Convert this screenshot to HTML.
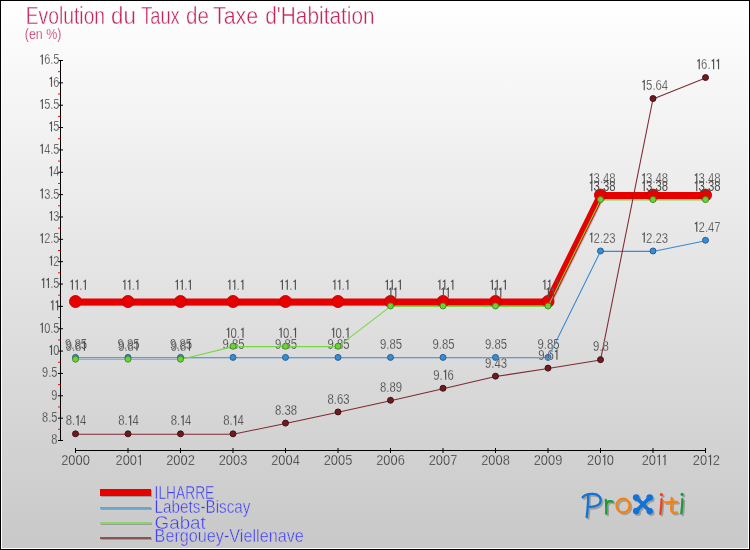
<!DOCTYPE html>
<html><head><meta charset="utf-8"><title>Evolution du Taux de Taxe d'Habitation</title>
<style>
html,body{margin:0;padding:0;background:#fff;}
body{width:750px;height:550px;overflow:hidden;}
svg{display:block;font-family:"Liberation Sans",sans-serif;will-change:transform;}
</style></head><body>
<svg width="750" height="550" viewBox="0 0 750 550">
<defs>
<linearGradient id="bg" gradientUnits="userSpaceOnUse" x1="0" y1="0" x2="0" y2="550"><stop offset="0" stop-color="#ffffff"/><stop offset="1" stop-color="#c8c8c8"/></linearGradient>
<filter id="sh" x="-5%" y="-5%" width="110%" height="110%"><feGaussianBlur stdDeviation="0.6"/></filter>
</defs>
<rect x="0" y="0" width="750" height="550" fill="#000"/>
<rect x="1" y="1" width="748" height="548" fill="#fff"/>
<rect x="2" y="2" width="746" height="546" fill="url(#bg)"/>

<text x="25.73" y="24.00" font-size="24.6" fill="#c4255a" textLength="79.38" lengthAdjust="spacingAndGlyphs" stroke="#fdfdfd" stroke-width="0.45">Evolution</text>
<text x="111.12" y="24.00" font-size="24.6" fill="#c4255a" textLength="24.80" lengthAdjust="spacingAndGlyphs" stroke="#fdfdfd" stroke-width="0.45">du</text>
<text x="141.16" y="24.00" font-size="24.6" fill="#c4255a" textLength="38.59" lengthAdjust="spacingAndGlyphs" stroke="#fdfdfd" stroke-width="0.45">Taux</text>
<text x="185.96" y="24.00" font-size="24.6" fill="#c4255a" textLength="22.90" lengthAdjust="spacingAndGlyphs" stroke="#fdfdfd" stroke-width="0.45">de</text>
<text x="212.96" y="24.00" font-size="24.6" fill="#c4255a" textLength="45.27" lengthAdjust="spacingAndGlyphs" stroke="#fdfdfd" stroke-width="0.45">Taxe</text>
<text x="265.29" y="24.00" font-size="24.6" fill="#c4255a" textLength="109.30" lengthAdjust="spacingAndGlyphs" stroke="#fdfdfd" stroke-width="0.45">d&#39;Habitation</text>
<text x="24.80" y="39.40" font-size="14.5" fill="#c4255a" textLength="36.60" lengthAdjust="spacingAndGlyphs" stroke="#fbfbfb" stroke-width="0.25">(en %)</text>
<g stroke="#000" stroke-width="1" fill="none">
<line x1="60.5" y1="60" x2="60.5" y2="441"/>
<line x1="58" y1="440.50" x2="63" y2="440.50"/>
<line x1="58" y1="429.32" x2="60.4" y2="429.32" stroke="#f00"/>
<line x1="58" y1="418.15" x2="63" y2="418.15"/>
<line x1="58" y1="406.97" x2="60.4" y2="406.97" stroke="#f00"/>
<line x1="58" y1="395.79" x2="63" y2="395.79"/>
<line x1="58" y1="384.62" x2="60.4" y2="384.62" stroke="#f00"/>
<line x1="58" y1="373.44" x2="63" y2="373.44"/>
<line x1="58" y1="362.26" x2="60.4" y2="362.26" stroke="#f00"/>
<line x1="58" y1="351.09" x2="63" y2="351.09"/>
<line x1="58" y1="339.91" x2="60.4" y2="339.91" stroke="#f00"/>
<line x1="58" y1="328.74" x2="63" y2="328.74"/>
<line x1="58" y1="317.56" x2="60.4" y2="317.56" stroke="#f00"/>
<line x1="58" y1="306.38" x2="63" y2="306.38"/>
<line x1="58" y1="295.21" x2="60.4" y2="295.21" stroke="#f00"/>
<line x1="58" y1="284.03" x2="63" y2="284.03"/>
<line x1="58" y1="272.85" x2="60.4" y2="272.85" stroke="#f00"/>
<line x1="58" y1="261.68" x2="63" y2="261.68"/>
<line x1="58" y1="250.50" x2="60.4" y2="250.50" stroke="#f00"/>
<line x1="58" y1="239.32" x2="63" y2="239.32"/>
<line x1="58" y1="228.15" x2="60.4" y2="228.15" stroke="#f00"/>
<line x1="58" y1="216.97" x2="63" y2="216.97"/>
<line x1="58" y1="205.79" x2="60.4" y2="205.79" stroke="#f00"/>
<line x1="58" y1="194.62" x2="63" y2="194.62"/>
<line x1="58" y1="183.44" x2="60.4" y2="183.44" stroke="#f00"/>
<line x1="58" y1="172.26" x2="63" y2="172.26"/>
<line x1="58" y1="161.09" x2="60.4" y2="161.09" stroke="#f00"/>
<line x1="58" y1="149.91" x2="63" y2="149.91"/>
<line x1="58" y1="138.74" x2="60.4" y2="138.74" stroke="#f00"/>
<line x1="58" y1="127.56" x2="63" y2="127.56"/>
<line x1="58" y1="116.38" x2="60.4" y2="116.38" stroke="#f00"/>
<line x1="58" y1="105.21" x2="63" y2="105.21"/>
<line x1="58" y1="94.03" x2="60.4" y2="94.03" stroke="#f00"/>
<line x1="58" y1="82.85" x2="63" y2="82.85"/>
<line x1="58" y1="71.68" x2="60.4" y2="71.68" stroke="#f00"/>
<line x1="58" y1="60.50" x2="63" y2="60.50"/>
<line x1="75" y1="450.5" x2="706" y2="450.5"/>
<line x1="75.50" y1="448" x2="75.50" y2="453"/>
<line x1="128.00" y1="448" x2="128.00" y2="453"/>
<line x1="180.50" y1="448" x2="180.50" y2="453"/>
<line x1="233.00" y1="448" x2="233.00" y2="453"/>
<line x1="285.50" y1="448" x2="285.50" y2="453"/>
<line x1="338.00" y1="448" x2="338.00" y2="453"/>
<line x1="390.50" y1="448" x2="390.50" y2="453"/>
<line x1="443.00" y1="448" x2="443.00" y2="453"/>
<line x1="495.50" y1="448" x2="495.50" y2="453"/>
<line x1="548.00" y1="448" x2="548.00" y2="453"/>
<line x1="600.50" y1="448" x2="600.50" y2="453"/>
<line x1="653.00" y1="448" x2="653.00" y2="453"/>
<line x1="705.50" y1="448" x2="705.50" y2="453"/>
</g>
<text transform="translate(51.20,444.40) scale(0.7837,1)" x="0.00" font-size="14.0" fill="#2e2e2e" stroke="#d3d3d3" stroke-width="0.32">8</text>
<text transform="translate(42.05,422.05) scale(0.7837,1)" x="0.00 7.78 11.68" font-size="14.0" fill="#2e2e2e" stroke="#d5d5d5" stroke-width="0.32">8.5</text>
<text transform="translate(51.20,399.69) scale(0.7837,1)" x="0.00" font-size="14.0" fill="#2e2e2e" stroke="#d7d7d7" stroke-width="0.32">9</text>
<text transform="translate(42.05,377.34) scale(0.7837,1)" x="0.00 7.78 11.68" font-size="14.0" fill="#2e2e2e" stroke="#dadada" stroke-width="0.32">9.5</text>
<text transform="translate(48.54,354.99) scale(0.7837,1)" x="6.07" font-size="14.0" fill="#2e2e2e" stroke="#dcdcdc" stroke-width="0.32">0</text>
<path d="M51.49,354.99 V345.75 L49.59,347.25" fill="none" stroke="#505050" stroke-width="1.15" stroke-linejoin="miter"/>
<text transform="translate(39.39,332.64) scale(0.7837,1)" x="6.07 13.86 17.75" font-size="14.0" fill="#2e2e2e" stroke="#dedede" stroke-width="0.32">0.5</text>
<path d="M42.34,332.64 V323.40 L40.44,324.90" fill="none" stroke="#505050" stroke-width="1.15" stroke-linejoin="miter"/>
<path d="M52.83,310.28 V301.04 L50.93,302.54" fill="none" stroke="#505050" stroke-width="1.15" stroke-linejoin="miter"/>
<path d="M57.59,310.28 V301.04 L55.69,302.54" fill="none" stroke="#505050" stroke-width="1.15" stroke-linejoin="miter"/>
<text transform="translate(40.73,287.93) scale(0.7837,1)" x="12.14 16.04" font-size="14.0" fill="#2e2e2e" stroke="#e3e3e3" stroke-width="0.32">.5</text>
<path d="M43.68,287.93 V278.69 L41.78,280.19" fill="none" stroke="#505050" stroke-width="1.15" stroke-linejoin="miter"/>
<path d="M48.44,287.93 V278.69 L46.54,280.19" fill="none" stroke="#505050" stroke-width="1.15" stroke-linejoin="miter"/>
<text transform="translate(48.54,265.58) scale(0.7837,1)" x="6.07" font-size="14.0" fill="#2e2e2e" stroke="#e5e5e5" stroke-width="0.32">2</text>
<path d="M51.49,265.58 V256.34 L49.59,257.84" fill="none" stroke="#505050" stroke-width="1.15" stroke-linejoin="miter"/>
<text transform="translate(39.39,243.22) scale(0.7837,1)" x="6.07 13.86 17.75" font-size="14.0" fill="#2e2e2e" stroke="#e7e7e7" stroke-width="0.32">2.5</text>
<path d="M42.34,243.22 V233.98 L40.44,235.48" fill="none" stroke="#505050" stroke-width="1.15" stroke-linejoin="miter"/>
<text transform="translate(48.54,220.87) scale(0.7837,1)" x="6.07" font-size="14.0" fill="#2e2e2e" stroke="#e9e9e9" stroke-width="0.32">3</text>
<path d="M51.49,220.87 V211.63 L49.59,213.13" fill="none" stroke="#505050" stroke-width="1.15" stroke-linejoin="miter"/>
<text transform="translate(39.39,198.52) scale(0.7837,1)" x="6.07 13.86 17.75" font-size="14.0" fill="#2e2e2e" stroke="#ececec" stroke-width="0.32">3.5</text>
<path d="M42.34,198.52 V189.28 L40.44,190.78" fill="none" stroke="#505050" stroke-width="1.15" stroke-linejoin="miter"/>
<text transform="translate(48.54,176.16) scale(0.7837,1)" x="6.07" font-size="14.0" fill="#2e2e2e" stroke="#eeeeee" stroke-width="0.32">4</text>
<path d="M51.49,176.16 V166.92 L49.59,168.42" fill="none" stroke="#505050" stroke-width="1.15" stroke-linejoin="miter"/>
<text transform="translate(39.39,153.81) scale(0.7837,1)" x="6.07 13.86 17.75" font-size="14.0" fill="#2e2e2e" stroke="#f0f0f0" stroke-width="0.32">4.5</text>
<path d="M42.34,153.81 V144.57 L40.44,146.07" fill="none" stroke="#505050" stroke-width="1.15" stroke-linejoin="miter"/>
<text transform="translate(48.54,131.46) scale(0.7837,1)" x="6.07" font-size="14.0" fill="#2e2e2e" stroke="#f2f2f2" stroke-width="0.32">5</text>
<path d="M51.49,131.46 V122.22 L49.59,123.72" fill="none" stroke="#505050" stroke-width="1.15" stroke-linejoin="miter"/>
<text transform="translate(39.39,109.11) scale(0.7837,1)" x="6.07 13.86 17.75" font-size="14.0" fill="#2e2e2e" stroke="#f4f4f4" stroke-width="0.32">5.5</text>
<path d="M42.34,109.11 V99.87 L40.44,101.37" fill="none" stroke="#505050" stroke-width="1.15" stroke-linejoin="miter"/>
<text transform="translate(48.54,86.75) scale(0.7837,1)" x="6.07" font-size="14.0" fill="#2e2e2e" stroke="#f7f7f7" stroke-width="0.32">6</text>
<path d="M51.49,86.75 V77.51 L49.59,79.01" fill="none" stroke="#505050" stroke-width="1.15" stroke-linejoin="miter"/>
<text transform="translate(39.39,64.40) scale(0.7837,1)" x="6.07 13.86 17.75" font-size="14.0" fill="#2e2e2e" stroke="#f9f9f9" stroke-width="0.32">6.5</text>
<path d="M42.34,64.40 V55.16 L40.44,56.66" fill="none" stroke="#505050" stroke-width="1.15" stroke-linejoin="miter"/>
<text transform="translate(61.20,465.30) scale(0.8573,1)" x="0.00 8.34 16.68 25.02" font-size="15.0" fill="#2e2e2e" stroke="#d1d1d1" stroke-width="0.32">2000</text>
<text transform="translate(115.49,465.30) scale(0.8573,1)" x="0.00 8.34 16.68" font-size="15.0" fill="#2e2e2e" stroke="#d1d1d1" stroke-width="0.32">200</text>
<path d="M140.39,465.30 V455.40 L138.49,456.90" fill="none" stroke="#505050" stroke-width="1.15" stroke-linejoin="miter"/>
<text transform="translate(166.20,465.30) scale(0.8573,1)" x="0.00 8.34 16.68 25.02" font-size="15.0" fill="#2e2e2e" stroke="#d1d1d1" stroke-width="0.32">2002</text>
<text transform="translate(218.70,465.30) scale(0.8573,1)" x="0.00 8.34 16.68 25.02" font-size="15.0" fill="#2e2e2e" stroke="#d1d1d1" stroke-width="0.32">2003</text>
<text transform="translate(271.20,465.30) scale(0.8573,1)" x="0.00 8.34 16.68 25.02" font-size="15.0" fill="#2e2e2e" stroke="#d1d1d1" stroke-width="0.32">2004</text>
<text transform="translate(323.70,465.30) scale(0.8573,1)" x="0.00 8.34 16.68 25.02" font-size="15.0" fill="#2e2e2e" stroke="#d1d1d1" stroke-width="0.32">2005</text>
<text transform="translate(376.20,465.30) scale(0.8573,1)" x="0.00 8.34 16.68 25.02" font-size="15.0" fill="#2e2e2e" stroke="#d1d1d1" stroke-width="0.32">2006</text>
<text transform="translate(428.70,465.30) scale(0.8573,1)" x="0.00 8.34 16.68 25.02" font-size="15.0" fill="#2e2e2e" stroke="#d1d1d1" stroke-width="0.32">2007</text>
<text transform="translate(481.20,465.30) scale(0.8573,1)" x="0.00 8.34 16.68 25.02" font-size="15.0" fill="#2e2e2e" stroke="#d1d1d1" stroke-width="0.32">2008</text>
<text transform="translate(533.70,465.30) scale(0.8573,1)" x="0.00 8.34 16.68 25.02" font-size="15.0" fill="#2e2e2e" stroke="#d1d1d1" stroke-width="0.32">2009</text>
<text transform="translate(586.99,465.30) scale(0.8573,1)" x="0.00 8.34 23.19" font-size="15.0" fill="#2e2e2e" stroke="#d1d1d1" stroke-width="0.32">200</text>
<path d="M604.74,465.30 V455.40 L602.84,456.90" fill="none" stroke="#505050" stroke-width="1.15" stroke-linejoin="miter"/>
<text transform="translate(641.67,465.30) scale(0.8573,1)" x="0.00 8.34" font-size="15.0" fill="#2e2e2e" stroke="#d1d1d1" stroke-width="0.32">20</text>
<path d="M659.43,465.30 V455.40 L657.53,456.90" fill="none" stroke="#505050" stroke-width="1.15" stroke-linejoin="miter"/>
<path d="M665.01,465.30 V455.40 L663.11,456.90" fill="none" stroke="#505050" stroke-width="1.15" stroke-linejoin="miter"/>
<text transform="translate(692.79,465.30) scale(0.8573,1)" x="0.00 8.34 23.19" font-size="15.0" fill="#2e2e2e" stroke="#d1d1d1" stroke-width="0.32">202</text>
<path d="M710.54,465.30 V455.40 L708.64,456.90" fill="none" stroke="#505050" stroke-width="1.15" stroke-linejoin="miter"/>
<polyline points="75.50,301.91 128.00,301.91 180.50,301.91 233.00,301.91 285.50,301.91 338.00,301.91 390.50,301.91 443.00,301.91 495.50,301.91 548.00,301.91 600.50,195.51 653.00,195.51 705.50,195.51" fill="none" stroke="#000" stroke-opacity="0.18" stroke-width="7" transform="translate(0.8,0.8)" stroke-linejoin="round"/>
<polyline points="75.50,301.91 128.00,301.91 180.50,301.91 233.00,301.91 285.50,301.91 338.00,301.91 390.50,301.91 443.00,301.91 495.50,301.91 548.00,301.91 600.50,195.51 653.00,195.51 705.50,195.51" fill="none" stroke="#e60000" stroke-width="7" stroke-linejoin="round"/>
<circle cx="75.50" cy="301.51" r="6" fill="#e60000" stroke="#c80000" stroke-width="0.95"/>
<circle cx="128.00" cy="301.51" r="6" fill="#e60000" stroke="#c80000" stroke-width="0.95"/>
<circle cx="180.50" cy="301.51" r="6" fill="#e60000" stroke="#c80000" stroke-width="0.95"/>
<circle cx="233.00" cy="301.51" r="6" fill="#e60000" stroke="#c80000" stroke-width="0.95"/>
<circle cx="285.50" cy="301.51" r="6" fill="#e60000" stroke="#c80000" stroke-width="0.95"/>
<circle cx="338.00" cy="301.51" r="6" fill="#e60000" stroke="#c80000" stroke-width="0.95"/>
<circle cx="390.50" cy="301.51" r="6" fill="#e60000" stroke="#c80000" stroke-width="0.95"/>
<circle cx="443.00" cy="301.51" r="6" fill="#e60000" stroke="#c80000" stroke-width="0.95"/>
<circle cx="495.50" cy="301.51" r="6" fill="#e60000" stroke="#c80000" stroke-width="0.95"/>
<circle cx="548.00" cy="301.51" r="6" fill="#e60000" stroke="#c80000" stroke-width="0.95"/>
<circle cx="600.50" cy="195.11" r="6" fill="#e60000" stroke="#c80000" stroke-width="0.95"/>
<circle cx="653.00" cy="195.11" r="6" fill="#e60000" stroke="#c80000" stroke-width="0.95"/>
<circle cx="705.50" cy="195.11" r="6" fill="#e60000" stroke="#c80000" stroke-width="0.95"/>
<text transform="translate(69.35,289.81) scale(0.7924,1)" x="12.40" font-size="14.3" fill="#2e2e2e" stroke="#e2e2e2" stroke-width="0.32">.</text>
<path d="M72.40,289.81 V280.37 L70.50,281.87" fill="none" stroke="#505050" stroke-width="1.15" stroke-linejoin="miter"/>
<path d="M77.31,289.81 V280.37 L75.41,281.87" fill="none" stroke="#505050" stroke-width="1.15" stroke-linejoin="miter"/>
<path d="M85.38,289.81 V280.37 L83.48,281.87" fill="none" stroke="#505050" stroke-width="1.15" stroke-linejoin="miter"/>
<text transform="translate(121.85,289.81) scale(0.7924,1)" x="12.40" font-size="14.3" fill="#2e2e2e" stroke="#e2e2e2" stroke-width="0.32">.</text>
<path d="M124.90,289.81 V280.37 L123.00,281.87" fill="none" stroke="#505050" stroke-width="1.15" stroke-linejoin="miter"/>
<path d="M129.81,289.81 V280.37 L127.91,281.87" fill="none" stroke="#505050" stroke-width="1.15" stroke-linejoin="miter"/>
<path d="M137.88,289.81 V280.37 L135.98,281.87" fill="none" stroke="#505050" stroke-width="1.15" stroke-linejoin="miter"/>
<text transform="translate(174.35,289.81) scale(0.7924,1)" x="12.40" font-size="14.3" fill="#2e2e2e" stroke="#e2e2e2" stroke-width="0.32">.</text>
<path d="M177.40,289.81 V280.37 L175.50,281.87" fill="none" stroke="#505050" stroke-width="1.15" stroke-linejoin="miter"/>
<path d="M182.31,289.81 V280.37 L180.41,281.87" fill="none" stroke="#505050" stroke-width="1.15" stroke-linejoin="miter"/>
<path d="M190.38,289.81 V280.37 L188.48,281.87" fill="none" stroke="#505050" stroke-width="1.15" stroke-linejoin="miter"/>
<text transform="translate(226.85,289.81) scale(0.7924,1)" x="12.40" font-size="14.3" fill="#2e2e2e" stroke="#e2e2e2" stroke-width="0.32">.</text>
<path d="M229.90,289.81 V280.37 L228.00,281.87" fill="none" stroke="#505050" stroke-width="1.15" stroke-linejoin="miter"/>
<path d="M234.81,289.81 V280.37 L232.91,281.87" fill="none" stroke="#505050" stroke-width="1.15" stroke-linejoin="miter"/>
<path d="M242.88,289.81 V280.37 L240.98,281.87" fill="none" stroke="#505050" stroke-width="1.15" stroke-linejoin="miter"/>
<text transform="translate(279.35,289.81) scale(0.7924,1)" x="12.40" font-size="14.3" fill="#2e2e2e" stroke="#e2e2e2" stroke-width="0.32">.</text>
<path d="M282.40,289.81 V280.37 L280.50,281.87" fill="none" stroke="#505050" stroke-width="1.15" stroke-linejoin="miter"/>
<path d="M287.31,289.81 V280.37 L285.41,281.87" fill="none" stroke="#505050" stroke-width="1.15" stroke-linejoin="miter"/>
<path d="M295.38,289.81 V280.37 L293.48,281.87" fill="none" stroke="#505050" stroke-width="1.15" stroke-linejoin="miter"/>
<text transform="translate(331.85,289.81) scale(0.7924,1)" x="12.40" font-size="14.3" fill="#2e2e2e" stroke="#e2e2e2" stroke-width="0.32">.</text>
<path d="M334.90,289.81 V280.37 L333.00,281.87" fill="none" stroke="#505050" stroke-width="1.15" stroke-linejoin="miter"/>
<path d="M339.81,289.81 V280.37 L337.91,281.87" fill="none" stroke="#505050" stroke-width="1.15" stroke-linejoin="miter"/>
<path d="M347.88,289.81 V280.37 L345.98,281.87" fill="none" stroke="#505050" stroke-width="1.15" stroke-linejoin="miter"/>
<text transform="translate(384.35,289.81) scale(0.7924,1)" x="12.40" font-size="14.3" fill="#2e2e2e" stroke="#e2e2e2" stroke-width="0.32">.</text>
<path d="M387.40,289.81 V280.37 L385.50,281.87" fill="none" stroke="#505050" stroke-width="1.15" stroke-linejoin="miter"/>
<path d="M392.31,289.81 V280.37 L390.41,281.87" fill="none" stroke="#505050" stroke-width="1.15" stroke-linejoin="miter"/>
<path d="M400.38,289.81 V280.37 L398.48,281.87" fill="none" stroke="#505050" stroke-width="1.15" stroke-linejoin="miter"/>
<text transform="translate(436.85,289.81) scale(0.7924,1)" x="12.40" font-size="14.3" fill="#2e2e2e" stroke="#e2e2e2" stroke-width="0.32">.</text>
<path d="M439.90,289.81 V280.37 L438.00,281.87" fill="none" stroke="#505050" stroke-width="1.15" stroke-linejoin="miter"/>
<path d="M444.81,289.81 V280.37 L442.91,281.87" fill="none" stroke="#505050" stroke-width="1.15" stroke-linejoin="miter"/>
<path d="M452.88,289.81 V280.37 L450.98,281.87" fill="none" stroke="#505050" stroke-width="1.15" stroke-linejoin="miter"/>
<text transform="translate(489.35,289.81) scale(0.7924,1)" x="12.40" font-size="14.3" fill="#2e2e2e" stroke="#e2e2e2" stroke-width="0.32">.</text>
<path d="M492.40,289.81 V280.37 L490.50,281.87" fill="none" stroke="#505050" stroke-width="1.15" stroke-linejoin="miter"/>
<path d="M497.31,289.81 V280.37 L495.41,281.87" fill="none" stroke="#505050" stroke-width="1.15" stroke-linejoin="miter"/>
<path d="M505.38,289.81 V280.37 L503.48,281.87" fill="none" stroke="#505050" stroke-width="1.15" stroke-linejoin="miter"/>
<text transform="translate(541.85,289.81) scale(0.7924,1)" x="12.40" font-size="14.3" fill="#2e2e2e" stroke="#e2e2e2" stroke-width="0.32">.</text>
<path d="M544.90,289.81 V280.37 L543.00,281.87" fill="none" stroke="#505050" stroke-width="1.15" stroke-linejoin="miter"/>
<path d="M549.81,289.81 V280.37 L547.91,281.87" fill="none" stroke="#505050" stroke-width="1.15" stroke-linejoin="miter"/>
<path d="M557.88,289.81 V280.37 L555.98,281.87" fill="none" stroke="#505050" stroke-width="1.15" stroke-linejoin="miter"/>
<text transform="translate(588.72,183.41) scale(0.7924,1)" x="6.20 14.15 18.13 26.08" font-size="14.3" fill="#2e2e2e" stroke="#ededed" stroke-width="0.32">3.48</text>
<path d="M591.76,183.41 V173.97 L589.86,175.47" fill="none" stroke="#505050" stroke-width="1.15" stroke-linejoin="miter"/>
<text transform="translate(641.22,183.41) scale(0.7924,1)" x="6.20 14.15 18.13 26.08" font-size="14.3" fill="#2e2e2e" stroke="#ededed" stroke-width="0.32">3.48</text>
<path d="M644.26,183.41 V173.97 L642.36,175.47" fill="none" stroke="#505050" stroke-width="1.15" stroke-linejoin="miter"/>
<text transform="translate(693.72,183.41) scale(0.7924,1)" x="6.20 14.15 18.13 26.08" font-size="14.3" fill="#2e2e2e" stroke="#ededed" stroke-width="0.32">3.48</text>
<path d="M696.76,183.41 V173.97 L694.86,175.47" fill="none" stroke="#505050" stroke-width="1.15" stroke-linejoin="miter"/>
<polyline points="75.50,357.79 128.00,357.79 180.50,357.79 233.00,357.79 285.50,357.79 338.00,357.79 390.50,357.79 443.00,357.79 495.50,357.79 548.00,357.79 600.50,251.39 653.00,251.39 705.50,240.66" fill="none" stroke="#3489d2" stroke-width="1.05" stroke-linejoin="round"/>
<circle cx="75.50" cy="357.39" r="3.0" fill="#378cd2" stroke="#265c92" stroke-width="0.95"/>
<circle cx="128.00" cy="357.39" r="3.0" fill="#378cd2" stroke="#265c92" stroke-width="0.95"/>
<circle cx="180.50" cy="357.39" r="3.0" fill="#378cd2" stroke="#265c92" stroke-width="0.95"/>
<circle cx="233.00" cy="357.39" r="3.0" fill="#378cd2" stroke="#265c92" stroke-width="0.95"/>
<circle cx="285.50" cy="357.39" r="3.0" fill="#378cd2" stroke="#265c92" stroke-width="0.95"/>
<circle cx="338.00" cy="357.39" r="3.0" fill="#378cd2" stroke="#265c92" stroke-width="0.95"/>
<circle cx="390.50" cy="357.39" r="3.0" fill="#378cd2" stroke="#265c92" stroke-width="0.95"/>
<circle cx="443.00" cy="357.39" r="3.0" fill="#378cd2" stroke="#265c92" stroke-width="0.95"/>
<circle cx="495.50" cy="357.39" r="3.0" fill="#378cd2" stroke="#265c92" stroke-width="0.95"/>
<circle cx="548.00" cy="357.39" r="3.0" fill="#378cd2" stroke="#265c92" stroke-width="0.95"/>
<circle cx="600.50" cy="250.99" r="3.0" fill="#378cd2" stroke="#265c92" stroke-width="0.95"/>
<circle cx="653.00" cy="250.99" r="3.0" fill="#378cd2" stroke="#265c92" stroke-width="0.95"/>
<circle cx="705.50" cy="240.26" r="3.0" fill="#378cd2" stroke="#265c92" stroke-width="0.95"/>
<text transform="translate(64.97,348.99) scale(0.7924,1)" x="0.00 7.95 11.93 19.88" font-size="14.3" fill="#2e2e2e" stroke="#dddddd" stroke-width="0.32">9.85</text>
<text transform="translate(117.47,348.99) scale(0.7924,1)" x="0.00 7.95 11.93 19.88" font-size="14.3" fill="#2e2e2e" stroke="#dddddd" stroke-width="0.32">9.85</text>
<text transform="translate(169.97,348.99) scale(0.7924,1)" x="0.00 7.95 11.93 19.88" font-size="14.3" fill="#2e2e2e" stroke="#dddddd" stroke-width="0.32">9.85</text>
<text transform="translate(222.47,348.99) scale(0.7924,1)" x="0.00 7.95 11.93 19.88" font-size="14.3" fill="#2e2e2e" stroke="#dddddd" stroke-width="0.32">9.85</text>
<text transform="translate(274.98,348.99) scale(0.7924,1)" x="0.00 7.95 11.93 19.88" font-size="14.3" fill="#2e2e2e" stroke="#dddddd" stroke-width="0.32">9.85</text>
<text transform="translate(327.48,348.99) scale(0.7924,1)" x="0.00 7.95 11.93 19.88" font-size="14.3" fill="#2e2e2e" stroke="#dddddd" stroke-width="0.32">9.85</text>
<text transform="translate(379.98,348.99) scale(0.7924,1)" x="0.00 7.95 11.93 19.88" font-size="14.3" fill="#2e2e2e" stroke="#dddddd" stroke-width="0.32">9.85</text>
<text transform="translate(432.48,348.99) scale(0.7924,1)" x="0.00 7.95 11.93 19.88" font-size="14.3" fill="#2e2e2e" stroke="#dddddd" stroke-width="0.32">9.85</text>
<text transform="translate(484.98,348.99) scale(0.7924,1)" x="0.00 7.95 11.93 19.88" font-size="14.3" fill="#2e2e2e" stroke="#dddddd" stroke-width="0.32">9.85</text>
<text transform="translate(537.48,348.99) scale(0.7924,1)" x="0.00 7.95 11.93 19.88" font-size="14.3" fill="#2e2e2e" stroke="#dddddd" stroke-width="0.32">9.85</text>
<text transform="translate(588.72,242.59) scale(0.7924,1)" x="6.20 14.15 18.13 26.08" font-size="14.3" fill="#2e2e2e" stroke="#e7e7e7" stroke-width="0.32">2.23</text>
<path d="M591.76,242.59 V233.16 L589.86,234.66" fill="none" stroke="#505050" stroke-width="1.15" stroke-linejoin="miter"/>
<text transform="translate(641.22,242.59) scale(0.7924,1)" x="6.20 14.15 18.13 26.08" font-size="14.3" fill="#2e2e2e" stroke="#e7e7e7" stroke-width="0.32">2.23</text>
<path d="M644.26,242.59 V233.16 L642.36,234.66" fill="none" stroke="#505050" stroke-width="1.15" stroke-linejoin="miter"/>
<text transform="translate(693.72,231.86) scale(0.7924,1)" x="6.20 14.15 18.13 26.08" font-size="14.3" fill="#2e2e2e" stroke="#e8e8e8" stroke-width="0.32">2.47</text>
<path d="M696.76,231.86 V222.43 L694.86,223.93" fill="none" stroke="#505050" stroke-width="1.15" stroke-linejoin="miter"/>
<polyline points="75.50,359.58 128.00,359.58 180.50,359.58 233.00,346.62 285.50,346.62 338.00,346.62 390.50,306.38 443.00,306.38 495.50,306.38 548.00,306.38 600.50,199.98 653.00,199.98 705.50,199.98" fill="none" stroke="#78d746" stroke-width="1.05" stroke-linejoin="round"/>
<circle cx="75.50" cy="359.18" r="3.0" fill="#6ed237" stroke="#3f8a26" stroke-width="0.95"/>
<circle cx="128.00" cy="359.18" r="3.0" fill="#6ed237" stroke="#3f8a26" stroke-width="0.95"/>
<circle cx="180.50" cy="359.18" r="3.0" fill="#6ed237" stroke="#3f8a26" stroke-width="0.95"/>
<circle cx="233.00" cy="346.22" r="3.0" fill="#6ed237" stroke="#3f8a26" stroke-width="0.95"/>
<circle cx="285.50" cy="346.22" r="3.0" fill="#6ed237" stroke="#3f8a26" stroke-width="0.95"/>
<circle cx="338.00" cy="346.22" r="3.0" fill="#6ed237" stroke="#3f8a26" stroke-width="0.95"/>
<circle cx="390.50" cy="305.98" r="3.0" fill="#6ed237" stroke="#3f8a26" stroke-width="0.95"/>
<circle cx="443.00" cy="305.98" r="3.0" fill="#6ed237" stroke="#3f8a26" stroke-width="0.95"/>
<circle cx="495.50" cy="305.98" r="3.0" fill="#6ed237" stroke="#3f8a26" stroke-width="0.95"/>
<circle cx="548.00" cy="305.98" r="3.0" fill="#6ed237" stroke="#3f8a26" stroke-width="0.95"/>
<circle cx="600.50" cy="199.58" r="3.0" fill="#6ed237" stroke="#3f8a26" stroke-width="0.95"/>
<circle cx="653.00" cy="199.58" r="3.0" fill="#6ed237" stroke="#3f8a26" stroke-width="0.95"/>
<circle cx="705.50" cy="199.58" r="3.0" fill="#6ed237" stroke="#3f8a26" stroke-width="0.95"/>
<text transform="translate(65.67,350.78) scale(0.7924,1)" x="0.00 7.95 11.93" font-size="14.3" fill="#2e2e2e" stroke="#dcdcdc" stroke-width="0.32">9.8</text>
<path d="M84.46,350.78 V341.34 L82.56,342.84" fill="none" stroke="#505050" stroke-width="1.15" stroke-linejoin="miter"/>
<text transform="translate(118.17,350.78) scale(0.7924,1)" x="0.00 7.95 11.93" font-size="14.3" fill="#2e2e2e" stroke="#dcdcdc" stroke-width="0.32">9.8</text>
<path d="M136.96,350.78 V341.34 L135.06,342.84" fill="none" stroke="#505050" stroke-width="1.15" stroke-linejoin="miter"/>
<text transform="translate(170.67,350.78) scale(0.7924,1)" x="0.00 7.95 11.93" font-size="14.3" fill="#2e2e2e" stroke="#dcdcdc" stroke-width="0.32">9.8</text>
<path d="M189.46,350.78 V341.34 L187.56,342.84" fill="none" stroke="#505050" stroke-width="1.15" stroke-linejoin="miter"/>
<text transform="translate(225.61,337.82) scale(0.7924,1)" x="6.20 14.15" font-size="14.3" fill="#2e2e2e" stroke="#dedede" stroke-width="0.32">0.</text>
<path d="M228.66,337.82 V328.38 L226.76,329.88" fill="none" stroke="#505050" stroke-width="1.15" stroke-linejoin="miter"/>
<path d="M243.02,337.82 V328.38 L241.12,329.88" fill="none" stroke="#505050" stroke-width="1.15" stroke-linejoin="miter"/>
<text transform="translate(278.11,337.82) scale(0.7924,1)" x="6.20 14.15" font-size="14.3" fill="#2e2e2e" stroke="#dedede" stroke-width="0.32">0.</text>
<path d="M281.16,337.82 V328.38 L279.26,329.88" fill="none" stroke="#505050" stroke-width="1.15" stroke-linejoin="miter"/>
<path d="M295.52,337.82 V328.38 L293.62,329.88" fill="none" stroke="#505050" stroke-width="1.15" stroke-linejoin="miter"/>
<text transform="translate(330.61,337.82) scale(0.7924,1)" x="6.20 14.15" font-size="14.3" fill="#2e2e2e" stroke="#dedede" stroke-width="0.32">0.</text>
<path d="M333.66,337.82 V328.38 L331.76,329.88" fill="none" stroke="#505050" stroke-width="1.15" stroke-linejoin="miter"/>
<path d="M348.02,337.82 V328.38 L346.12,329.88" fill="none" stroke="#505050" stroke-width="1.15" stroke-linejoin="miter"/>
<path d="M390.88,297.58 V288.14 L388.98,289.64" fill="none" stroke="#505050" stroke-width="1.15" stroke-linejoin="miter"/>
<path d="M395.80,297.58 V288.14 L393.90,289.64" fill="none" stroke="#505050" stroke-width="1.15" stroke-linejoin="miter"/>
<path d="M443.38,297.58 V288.14 L441.48,289.64" fill="none" stroke="#505050" stroke-width="1.15" stroke-linejoin="miter"/>
<path d="M448.30,297.58 V288.14 L446.40,289.64" fill="none" stroke="#505050" stroke-width="1.15" stroke-linejoin="miter"/>
<path d="M495.88,297.58 V288.14 L493.98,289.64" fill="none" stroke="#505050" stroke-width="1.15" stroke-linejoin="miter"/>
<path d="M500.80,297.58 V288.14 L498.90,289.64" fill="none" stroke="#505050" stroke-width="1.15" stroke-linejoin="miter"/>
<path d="M548.38,297.58 V288.14 L546.48,289.64" fill="none" stroke="#505050" stroke-width="1.15" stroke-linejoin="miter"/>
<path d="M553.30,297.58 V288.14 L551.40,289.64" fill="none" stroke="#505050" stroke-width="1.15" stroke-linejoin="miter"/>
<text transform="translate(588.72,191.18) scale(0.7924,1)" x="6.20 14.15 18.13 26.08" font-size="14.3" fill="#4a4a4a" stroke="#ececec" stroke-width="0">3.38</text>
<path d="M591.76,191.18 V181.74 L589.86,183.24" fill="none" stroke="#505050" stroke-width="1.15" stroke-linejoin="miter"/>
<text transform="translate(641.22,191.18) scale(0.7924,1)" x="6.20 14.15 18.13 26.08" font-size="14.3" fill="#4a4a4a" stroke="#ececec" stroke-width="0">3.38</text>
<path d="M644.26,191.18 V181.74 L642.36,183.24" fill="none" stroke="#505050" stroke-width="1.15" stroke-linejoin="miter"/>
<text transform="translate(693.72,191.18) scale(0.7924,1)" x="6.20 14.15 18.13 26.08" font-size="14.3" fill="#4a4a4a" stroke="#ececec" stroke-width="0">3.38</text>
<path d="M696.76,191.18 V181.74 L694.86,183.24" fill="none" stroke="#505050" stroke-width="1.15" stroke-linejoin="miter"/>
<polyline points="75.50,434.24 128.00,434.24 180.50,434.24 233.00,434.24 285.50,423.51 338.00,412.34 390.50,400.71 443.00,388.64 495.50,376.57 548.00,368.52 600.50,360.03 653.00,98.95 705.50,77.94" fill="none" stroke="#7d2a33" stroke-width="1.05" stroke-linejoin="round"/>
<circle cx="75.50" cy="433.84" r="3.0" fill="#6b1c20" stroke="#430e11" stroke-width="0.95"/>
<circle cx="128.00" cy="433.84" r="3.0" fill="#6b1c20" stroke="#430e11" stroke-width="0.95"/>
<circle cx="180.50" cy="433.84" r="3.0" fill="#6b1c20" stroke="#430e11" stroke-width="0.95"/>
<circle cx="233.00" cy="433.84" r="3.0" fill="#6b1c20" stroke="#430e11" stroke-width="0.95"/>
<circle cx="285.50" cy="423.11" r="3.0" fill="#6b1c20" stroke="#430e11" stroke-width="0.95"/>
<circle cx="338.00" cy="411.94" r="3.0" fill="#6b1c20" stroke="#430e11" stroke-width="0.95"/>
<circle cx="390.50" cy="400.31" r="3.0" fill="#6b1c20" stroke="#430e11" stroke-width="0.95"/>
<circle cx="443.00" cy="388.24" r="3.0" fill="#6b1c20" stroke="#430e11" stroke-width="0.95"/>
<circle cx="495.50" cy="376.17" r="3.0" fill="#6b1c20" stroke="#430e11" stroke-width="0.95"/>
<circle cx="548.00" cy="368.12" r="3.0" fill="#6b1c20" stroke="#430e11" stroke-width="0.95"/>
<circle cx="600.50" cy="359.63" r="3.0" fill="#6b1c20" stroke="#430e11" stroke-width="0.95"/>
<circle cx="653.00" cy="98.55" r="3.0" fill="#6b1c20" stroke="#430e11" stroke-width="0.95"/>
<circle cx="705.50" cy="77.54" r="3.0" fill="#6b1c20" stroke="#430e11" stroke-width="0.95"/>
<text transform="translate(65.67,425.44) scale(0.7924,1)" x="0.00 7.95 18.13" font-size="14.3" fill="#2e2e2e" stroke="#d5d5d5" stroke-width="0.32">8.4</text>
<path d="M78.16,425.44 V416.00 L76.26,417.50" fill="none" stroke="#505050" stroke-width="1.15" stroke-linejoin="miter"/>
<text transform="translate(118.17,425.44) scale(0.7924,1)" x="0.00 7.95 18.13" font-size="14.3" fill="#2e2e2e" stroke="#d5d5d5" stroke-width="0.32">8.4</text>
<path d="M130.66,425.44 V416.00 L128.76,417.50" fill="none" stroke="#505050" stroke-width="1.15" stroke-linejoin="miter"/>
<text transform="translate(170.67,425.44) scale(0.7924,1)" x="0.00 7.95 18.13" font-size="14.3" fill="#2e2e2e" stroke="#d5d5d5" stroke-width="0.32">8.4</text>
<path d="M183.16,425.44 V416.00 L181.26,417.50" fill="none" stroke="#505050" stroke-width="1.15" stroke-linejoin="miter"/>
<text transform="translate(223.17,425.44) scale(0.7924,1)" x="0.00 7.95 18.13" font-size="14.3" fill="#2e2e2e" stroke="#d5d5d5" stroke-width="0.32">8.4</text>
<path d="M235.66,425.44 V416.00 L233.76,417.50" fill="none" stroke="#505050" stroke-width="1.15" stroke-linejoin="miter"/>
<text transform="translate(274.98,414.71) scale(0.7924,1)" x="0.00 7.95 11.93 19.88" font-size="14.3" fill="#2e2e2e" stroke="#d6d6d6" stroke-width="0.32">8.38</text>
<text transform="translate(327.48,403.54) scale(0.7924,1)" x="0.00 7.95 11.93 19.88" font-size="14.3" fill="#2e2e2e" stroke="#d7d7d7" stroke-width="0.32">8.63</text>
<text transform="translate(379.98,391.91) scale(0.7924,1)" x="0.00 7.95 11.93 19.88" font-size="14.3" fill="#2e2e2e" stroke="#d8d8d8" stroke-width="0.32">8.89</text>
<text transform="translate(433.17,379.84) scale(0.7924,1)" x="0.00 7.95 18.13" font-size="14.3" fill="#2e2e2e" stroke="#d9d9d9" stroke-width="0.32">9.6</text>
<path d="M445.66,379.84 V370.40 L443.76,371.90" fill="none" stroke="#505050" stroke-width="1.15" stroke-linejoin="miter"/>
<text transform="translate(484.98,367.77) scale(0.7924,1)" x="0.00 7.95 11.93 19.88" font-size="14.3" fill="#2e2e2e" stroke="#dbdbdb" stroke-width="0.32">9.43</text>
<text transform="translate(538.17,359.72) scale(0.7924,1)" x="0.00 7.95 11.93" font-size="14.3" fill="#2e2e2e" stroke="#dbdbdb" stroke-width="0.32">9.6</text>
<path d="M556.96,359.72 V350.29 L555.06,351.79" fill="none" stroke="#505050" stroke-width="1.15" stroke-linejoin="miter"/>
<text transform="translate(593.12,351.23) scale(0.7924,1)" x="0.00 7.95 11.93" font-size="14.3" fill="#2e2e2e" stroke="#dcdcdc" stroke-width="0.32">9.8</text>
<text transform="translate(641.22,90.15) scale(0.7924,1)" x="6.20 14.15 18.13 26.08" font-size="14.3" fill="#2e2e2e" stroke="#f6f6f6" stroke-width="0.32">5.64</text>
<path d="M644.26,90.15 V80.71 L642.36,82.21" fill="none" stroke="#505050" stroke-width="1.15" stroke-linejoin="miter"/>
<text transform="translate(696.20,69.14) scale(0.7924,1)" x="6.20 14.15" font-size="14.3" fill="#2e2e2e" stroke="#f8f8f8" stroke-width="0.32">6.</text>
<path d="M699.25,69.14 V59.70 L697.35,61.20" fill="none" stroke="#505050" stroke-width="1.15" stroke-linejoin="miter"/>
<path d="M713.61,69.14 V59.70 L711.71,61.20" fill="none" stroke="#505050" stroke-width="1.15" stroke-linejoin="miter"/>
<path d="M718.53,69.14 V59.70 L716.63,61.20" fill="none" stroke="#505050" stroke-width="1.15" stroke-linejoin="miter"/>
<rect x="101" y="490.0" width="51" height="7" fill="#000" fill-opacity="0.22"/>
<rect x="100" y="489.0" width="51" height="7" fill="#e60000"/>
<text x="154.60" y="499.10" font-size="18.3" fill="#3c3cfa" textLength="59.70" lengthAdjust="spacingAndGlyphs" stroke="#cecece" stroke-width="0.45">ILHARRE</text>
<rect x="101" y="508.0" width="51" height="2" fill="#000" fill-opacity="0.22"/>
<rect x="100" y="507.0" width="51" height="2" fill="#69a5cd"/>
<text x="154.60" y="512.60" font-size="18.3" fill="#3c3cfa" textLength="95.90" lengthAdjust="spacingAndGlyphs" stroke="#cecece" stroke-width="0.45">Labets-Biscay</text>
<rect x="101" y="523.0" width="51" height="2" fill="#000" fill-opacity="0.22"/>
<rect x="100" y="522.0" width="51" height="2" fill="#8cd26e"/>
<text x="154.60" y="529.20" font-size="18.3" fill="#3c3cfa" textLength="51.20" lengthAdjust="spacingAndGlyphs" stroke="#cecece" stroke-width="0.45">Gabat</text>
<rect x="101" y="538.0" width="51" height="2" fill="#000" fill-opacity="0.22"/>
<rect x="100" y="537.0" width="51" height="2" fill="#875555"/>
<text x="154.60" y="542.00" font-size="18.3" fill="#3c3cfa" textLength="149.20" lengthAdjust="spacingAndGlyphs" stroke="#cecece" stroke-width="0.45">Bergouey-Viellenave</text>
<g fill="none" stroke-width="2.3" stroke-linecap="round" stroke-linejoin="round">
<g transform="translate(1.6,1.6)" opacity="0.38" filter="url(#sh)">
<path d="M582.6,497.3 C584.5,494.6 588.5,493.8 593,493.9 C598,494 600.8,496.6 600.7,500.4 C600.6,504.6 596.5,507.2 589.2,506.9" stroke="#555"/>
<path d="M588.3,494.6 C588.2,502 587.6,510 586.7,517" stroke="#555"/>
<path d="M605.8,500 C606.3,504 606.4,509 606.2,513.6" stroke="#555"/>
<path d="M606.3,504.2 C607.2,501.6 609.4,500.2 612.6,501.6" stroke="#555"/>
<ellipse cx="623.1" cy="505.6" rx="6.5" ry="6.9" stroke="#555"/>
<path d="M636.2,497.6 L649.7,511.1 M649.7,497.6 L636.2,511.1" stroke="#555" stroke-width="3.6"/>
<circle cx="636.2" cy="497.6" r="3.3" fill="#555" stroke="none"/>
<circle cx="649.7" cy="497.6" r="3.3" fill="#555" stroke="none"/>
<circle cx="636.2" cy="511.1" r="3.3" fill="#555" stroke="none"/>
<circle cx="649.7" cy="511.1" r="3.3" fill="#555" stroke="none"/>
<circle cx="642.95" cy="504.35" r="2.6" fill="#555" stroke="none"/>
<circle cx="661.4" cy="494.6" r="1.6" fill="#555" stroke="none"/>
<path d="M661.6,499.2 C661.5,504 661,509 660.3,513.8" stroke="#555"/>
<path d="M671.7,498 C671.5,502 671.2,506 671.2,509.8 C671.3,512.6 673.5,513.4 676.8,512.4" stroke="#555"/>
<path d="M665.2,502.3 C669,501.9 673,501.8 677.2,501.8" stroke="#555"/>
<circle cx="682.1" cy="494.3" r="1.6" fill="#555" stroke="none"/>
<path d="M682.4,499.2 C682.3,504 681.9,509 681.3,513.5" stroke="#555"/>
</g>

<path d="M582.6,497.3 C584.5,494.6 588.5,493.8 593,493.9 C598,494 600.8,496.6 600.7,500.4 C600.6,504.6 596.5,507.2 589.2,506.9" stroke="#1273d6"/>
<path d="M588.3,494.6 C588.2,502 587.6,510 586.7,517" stroke="#1273d6"/>
<path d="M605.8,500 C606.3,504 606.4,509 606.2,513.6" stroke="#1e9a3c"/>
<path d="M606.3,504.2 C607.2,501.6 609.4,500.2 612.6,501.6" stroke="#1e9a3c"/>
<ellipse cx="623.1" cy="505.6" rx="6.5" ry="6.9" stroke="#f5820f"/>
<path d="M636.2,497.6 L649.7,511.1 M649.7,497.6 L636.2,511.1" stroke="#1273d6" stroke-width="3.6"/>
<circle cx="636.2" cy="497.6" r="3.3" fill="#1273d6" stroke="none"/>
<circle cx="649.7" cy="497.6" r="3.3" fill="#1273d6" stroke="none"/>
<circle cx="636.2" cy="511.1" r="3.3" fill="#1273d6" stroke="none"/>
<circle cx="649.7" cy="511.1" r="3.3" fill="#1273d6" stroke="none"/>
<circle cx="642.95" cy="504.35" r="2.6" fill="#1273d6" stroke="none"/>
<circle cx="661.4" cy="494.6" r="1.6" fill="#f0401a" stroke="none"/>
<path d="M661.6,499.2 C661.5,504 661,509 660.3,513.8" stroke="#f0401a"/>
<path d="M671.7,498 C671.5,502 671.2,506 671.2,509.8 C671.3,512.6 673.5,513.4 676.8,512.4" stroke="#f5820f"/>
<path d="M665.2,502.3 C669,501.9 673,501.8 677.2,501.8" stroke="#f5820f"/>
<circle cx="682.1" cy="494.3" r="1.6" fill="#1e9a3c" stroke="none"/>
<path d="M682.4,499.2 C682.3,504 681.9,509 681.3,513.5" stroke="#1e9a3c"/>

</g>
</svg></body></html>
